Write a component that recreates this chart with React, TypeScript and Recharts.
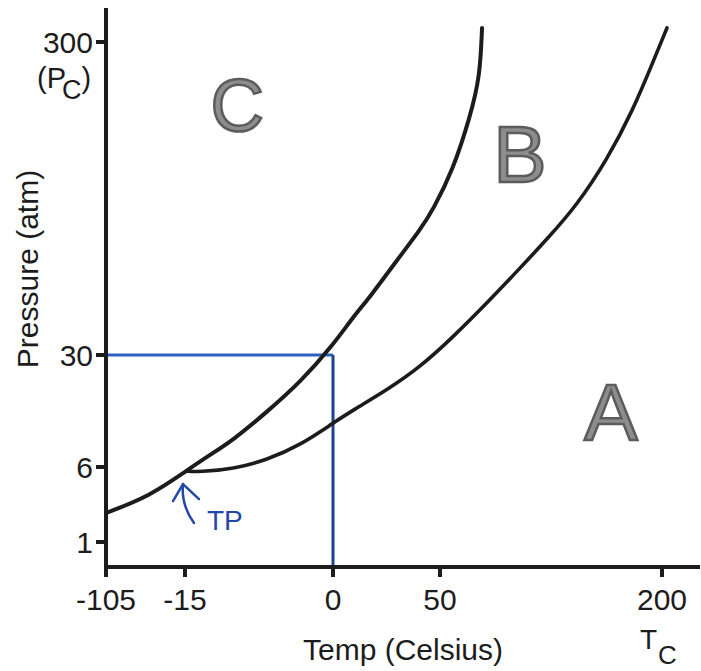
import React from "react";
import { LineChart, Line, XAxis, YAxis, ReferenceDot } from "recharts";

// tick values as printed on the axes
const TEMP_TICKS = [-105, -15, 0, 50, 200];
const PRESSURE_TICKS = [1, 6, 30, 300];

// solid boundary (sublimation up to TP, then melting curve), °C / atm
const SOLID_T = [-105, -54.9, -14.9, -12.5, -10.1, -6.7, -3.3, 0, 9.4, 17.3, 29.9, 40.7, 46.7, 58.8, 70.3, 77.0, 78.4];
const SOLID_P = [2.93, 4.07, 5.73, 8.57, 11.8, 17.8, 24.2, 38.6, 62.8, 80.0, 111.9, 137.8, 155.1, 189.6, 235.3, 269.8, 312.4];

// vaporization curve from TP to the critical point
const VAPOR_T = [-14.9, -13.5, -10.1, -6.7, -3.3, 0, 9.4, 25.2, 40.7, 58.8, 81.8, 104.1, 123.0, 142.6, 162.8, 180.4, 193.9, 203.4];
const VAPOR_P = [5.73, 5.67, 5.87, 7.5, 10.7, 15.4, 18.2, 22.5, 27.4, 45.5, 74.9, 105.0, 130.9, 159.4, 198.2, 241.3, 282.7, 312.4];

// blue guide lines at 30 atm / 0 °C
const GUIDE_H_T = [-105, 0];
const GUIDE_H_P = [30, 30];
const GUIDE_V_T = [0, 0];
const GUIDE_V_P = [30, 0];

const TRIPLE_POINT = { t: -14.9, p: 5.73 };
const PHASES = [
  { name: "C", t: -9.7, p: 223, size: 74 },
  { name: "B", t: 104, p: 179, size: 80 },
  { name: "A", t: 165.5, p: 11.8, size: 80 },
];

// the drawing's axes are not linear: break values and their place along each axis
const X_BREAKS = [-105, -15, 0, 50, 200, 226];
const X_SPAN = [0, 79, 227, 334, 556, 594];
const Y_BREAKS = [0, 1, 6, 30, 300, 330];
const Y_SPAN = [0, 25, 100, 212, 525, 559];

const piecewise = (v: number, from: number[], to: number[]) => {
  for (let i = 0; i < from.length - 1; i++) {
    if (v <= from[i + 1] || i === from.length - 2) {
      const f = (v - from[i]) / (from[i + 1] - from[i]);
      return to[i] + f * (to[i + 1] - to[i]);
    }
  }
  return to[0];
};
const tx = (t: number) => piecewise(t, X_BREAKS, X_SPAN);
const py = (p: number) => piecewise(p, Y_BREAKS, Y_SPAN);

const series = (ts: number[], ps: number[]) => ts.map((t, i) => ({ x: tx(t), y: py(ps[i]) }));

const solidData = series(SOLID_T, SOLID_P);
const vaporData = series(VAPOR_T, VAPOR_P);
const guideH = series(GUIDE_H_T, GUIDE_H_P);
const guideV = series(GUIDE_V_T, GUIDE_V_P);

const FONT = "'Liberation Sans', Arial, Helvetica, sans-serif";
const INK = "#1c1c1c";

const TempTick = (props: any) => {
  const { x, y, index } = props;
  const label = TEMP_TICKS[index];
  return (
    <g>
      <text x={x} y={y + 33} textAnchor="middle" fontSize={30} fontFamily={FONT} fill={INK}>
        {label}
      </text>
      {label === 200 && (
        <text x={x - 22} y={y + 72} fontSize={28} fontFamily={FONT} fill={INK}>
          T
          <tspan dy={15} dx={1} fontSize={26}>C</tspan>
        </text>
      )}
    </g>
  );
};

const PressureTick = (props: any) => {
  const { x, y, index } = props;
  const label = PRESSURE_TICKS[index];
  return (
    <g>
      <text x={x - 3} y={y + 11} textAnchor="end" fontSize={30} fontFamily={FONT} fill={INK}>
        {label}
      </text>
      {label === 300 && (
        <text x={37} y={y + 46} fontSize={29} fontFamily={FONT} fill={INK}>
          (P
          <tspan dy={11} dx={-4} fontSize={27}>C</tspan>
          <tspan dy={-11}>)</tspan>
        </text>
      )}
    </g>
  );
};

const PressureLabel = () => (
  <text
    x={38}
    y={269}
    transform="rotate(-90, 38, 269)"
    textAnchor="middle"
    fontSize={30}
    fontFamily={FONT}
    fill={INK}
  >
    Pressure (atm)
  </text>
);

export default function App() {
  return (
    <div style={{ position: "absolute", left: 0, top: 0, background: "#fff" }}>
      <LineChart width={701} height={671} margin={{ top: 8, right: 1, left: 0, bottom: 0 }}>
        <XAxis
          type="number"
          dataKey="x"
          domain={[0, 594]}
          ticks={TEMP_TICKS.map(tx)}
          interval={0}
          tick={<TempTick />}
          tickSize={10}
          tickMargin={0}
          height={104}
          axisLine={{ stroke: INK, strokeWidth: 4 }}
          tickLine={{ stroke: INK, strokeWidth: 4 }}
          label={{ value: "Temp (Celsius)", position: "insideBottom", offset: 11, fontSize: 30, fontFamily: FONT, fill: INK }}
        />
        <YAxis
          type="number"
          dataKey="y"
          domain={[0, 559]}
          ticks={PRESSURE_TICKS.map(py)}
          interval={0}
          tick={<PressureTick />}
          tickSize={10}
          tickMargin={0}
          width={106}
          axisLine={{ stroke: INK, strokeWidth: 4 }}
          tickLine={{ stroke: INK, strokeWidth: 4 }}
          label={{ content: () => <PressureLabel /> }}
        />
        <Line data={guideH} dataKey="y" type="linear" stroke="#2f60bf" strokeWidth={3} dot={false} isAnimationActive={false} />
        <Line data={guideV} dataKey="y" type="linear" stroke="#1d3f96" strokeWidth={3} dot={false} isAnimationActive={false} />
        <Line data={solidData} dataKey="y" type="basis" stroke={INK} strokeWidth={4} strokeLinecap="round" dot={false} isAnimationActive={false} />
        <Line data={vaporData} dataKey="y" type="basis" stroke={INK} strokeWidth={3.6} strokeLinecap="round" dot={false} isAnimationActive={false} />
        {PHASES.map((ph) => (
          <ReferenceDot
            key={ph.name}
            x={tx(ph.t)}
            y={py(ph.p)}
            r={0}
            shape={(p: any) => (
              <text
                x={p.cx}
                y={p.cy}
                textAnchor="middle"
                fontSize={ph.size}
                fontFamily={FONT}
                fill="#8d8d8d"
                stroke="#5c5c5c"
                strokeWidth={2.5}
              >
                {ph.name}
              </text>
            )}
          />
        ))}
        <ReferenceDot
          x={tx(TRIPLE_POINT.t)}
          y={py(TRIPLE_POINT.p)}
          r={0}
          shape={(p: any) => (
            <g fill="none" stroke="#2448a8" strokeWidth={2.5} strokeLinecap="round" strokeLinejoin="round">
              <path d={`M${p.cx - 3},${p.cy + 13} Q${p.cx - 5},${p.cy + 34} ${p.cx + 8},${p.cy + 52}`} />
              <path d={`M${p.cx - 13},${p.cy + 30} L${p.cx - 3},${p.cy + 13} L${p.cx + 13},${p.cy + 28}`} />
              <text x={p.cx + 21} y={p.cy + 59} fontSize={28} fontFamily={FONT} fill="#2448a8" stroke="none">
                TP
              </text>
            </g>
          )}
        />
      </LineChart>
    </div>
  );
}
